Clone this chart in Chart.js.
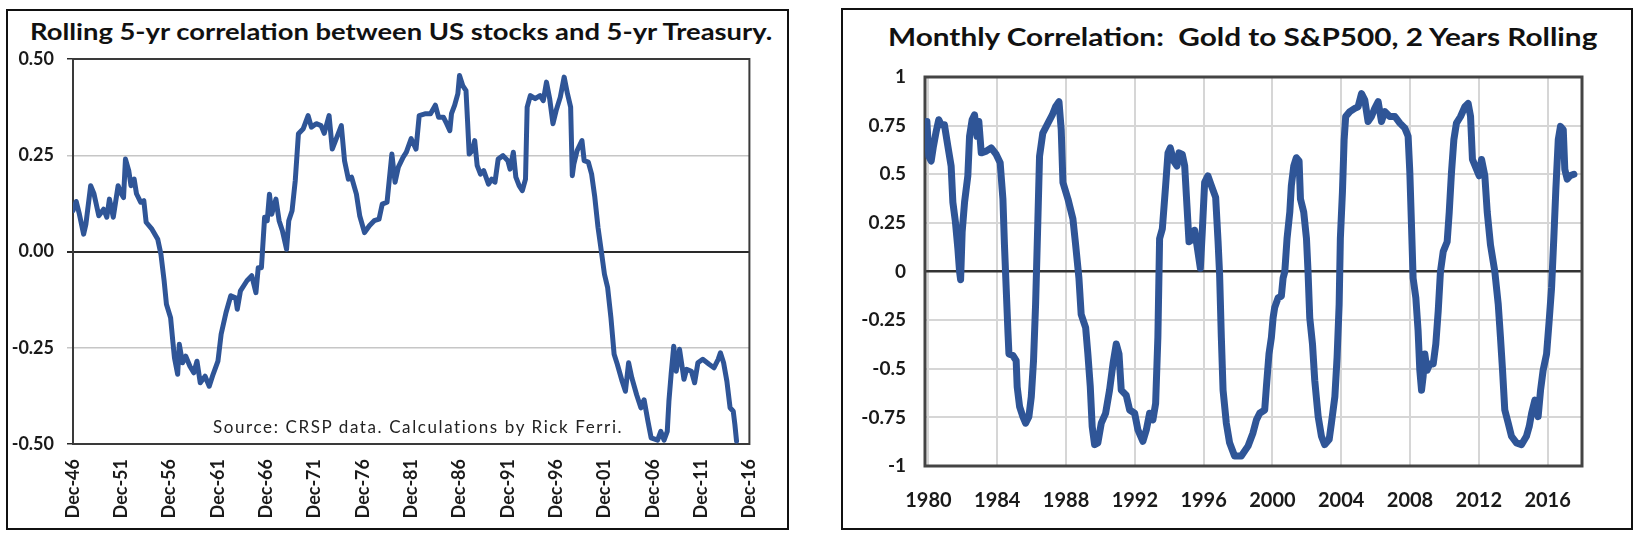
<!DOCTYPE html>
<html>
<head>
<meta charset="utf-8">
<script src="https://cdn.jsdelivr.net/npm/chart.js@4.4.1/dist/chart.umd.min.js"></script>
<style>
  body { margin: 0; width: 1640px; height: 534px; background: #fff; position: relative; overflow: hidden; font-family: Lato, "Open Sans", sans-serif; }
  .panel { position: absolute; box-sizing: border-box; border: 2px solid #111; }
  canvas { position: absolute; }
  .title { position: absolute; font-weight: bold; color: #111; white-space: pre; line-height: 1; transform-origin: 0 0; }
  .note { position: absolute; font-size: 17px; letter-spacing: 1.6px; color: #222; white-space: pre; line-height: 1; }
</style>
</head>
<body>
<div class="panel" style="left:6px; top:9px; width:783px; height:521px;"></div>
<div class="panel" style="left:841px; top:8px; width:792px; height:522px;"></div>

<div class="title" style="left:30px; top:20px; font-size:23px; transform:scaleX(1.19);">Rolling 5-yr correlation between US stocks and 5-yr Treasury.</div>
<div class="title" style="left:888px; top:24px; font-size:25px; transform:scaleX(1.19);">Monthly Correlation:  Gold to S&amp;P500, 2 Years Rolling</div>

<canvas id="stocksBonds" width="778" height="516" style="left:8px; top:11px;"></canvas>
<canvas id="goldSpx" width="786" height="516" style="left:844px; top:11px;"></canvas>

<div class="note" style="left:213px; top:418px;">Source: CRSP data. Calculations by Rick Ferri.</div>

<script>
// ---- left chart: rolling 5-yr correlation, US stocks vs 5-yr Treasury ----
const leftTickYears = [1946.92, 1951.92, 1956.92, 1961.92, 1966.92, 1971.92, 1976.92, 1981.92, 1986.92, 1991.92, 1996.92, 2001.92, 2006.92, 2011.92, 2016.92];
const leftTickLabels = ['Dec-46', 'Dec-51', 'Dec-56', 'Dec-61', 'Dec-66', 'Dec-71', 'Dec-76', 'Dec-81', 'Dec-86', 'Dec-91', 'Dec-96', 'Dec-01', 'Dec-06', 'Dec-11', 'Dec-16'];
const leftYTicks = [-0.5, -0.25, 0, 0.25, 0.5];

const leftYears = [
  1946.92, 1947.25, 1947.58, 1948.02, 1948.25, 1948.75, 1949.09, 1949.59, 1950.09, 1950.42,
  1950.69, 1951.09, 1951.59, 1951.92, 1952.15, 1952.35, 1952.69, 1952.92, 1953.25, 1953.49,
  1953.92, 1954.25, 1954.49, 1955.09, 1955.69, 1956.02, 1956.35, 1956.59, 1957.02, 1957.25,
  1957.42, 1957.75, 1957.92, 1958.25, 1958.59, 1959.02, 1959.42, 1959.75, 1960.09, 1960.59,
  1961.02, 1961.42, 1961.92, 1962.25, 1962.75, 1963.25, 1963.75, 1963.92, 1964.25, 1964.92,
  1965.42, 1965.85, 1966.09, 1966.42, 1966.75, 1967.02, 1967.25, 1967.49, 1967.92, 1968.25,
  1968.59, 1969.02, 1969.25, 1969.59, 1969.92, 1970.25, 1970.75, 1971.25, 1971.59, 1972.09,
  1972.59, 1972.92, 1973.42, 1973.75, 1974.09, 1974.69, 1975.02, 1975.42, 1975.75, 1976.25,
  1976.59, 1977.09, 1977.59, 1978.09, 1978.59, 1978.92, 1979.42, 1979.92, 1980.25, 1980.59,
  1981.09, 1981.42, 1981.92, 1982.42, 1982.75, 1983.42, 1983.92, 1984.42, 1984.75, 1985.25,
  1985.59, 1985.92, 1986.09, 1986.42, 1986.75, 1986.92, 1987.25, 1987.59, 1987.75, 1987.92,
  1988.25, 1988.49, 1988.75, 1989.09, 1989.42, 1989.92, 1990.25, 1990.59, 1990.92, 1991.42,
  1991.92, 1992.15, 1992.49, 1992.75, 1993.09, 1993.42, 1993.75, 1993.92, 1994.25, 1994.75,
  1995.25, 1995.59, 1995.92, 1996.25, 1996.59, 1996.92, 1997.35, 1997.75, 1998.09, 1998.42,
  1998.59, 1998.75, 1999.09, 1999.59, 1999.82, 2000.25, 2000.59, 2000.92, 2001.25, 2001.59,
  2001.92, 2002.25, 2002.59, 2002.92, 2003.25, 2003.75, 2004.09, 2004.42, 2004.75, 2005.25,
  2005.69, 2006.02, 2006.42, 2006.75, 2007.42, 2007.75, 2008.09, 2008.42, 2008.59, 2008.82,
  2009.09, 2009.35, 2009.69, 2009.92, 2010.15, 2010.42, 2010.92, 2011.25, 2011.59, 2012.09,
  2012.75, 2013.25, 2013.69, 2013.92, 2014.25, 2014.59, 2014.92, 2015.25, 2015.42, 2015.59
];
const leftValues = [
  0.106, 0.130, 0.097, 0.045, 0.070, 0.171, 0.150, 0.093, 0.110, 0.089,
  0.136, 0.089, 0.171, 0.150, 0.140, 0.240, 0.210, 0.171, 0.188, 0.150,
  0.128, 0.132, 0.076, 0.058, 0.032, -0.007, -0.076, -0.137, -0.172, -0.233,
  -0.276, -0.319, -0.241, -0.289, -0.272, -0.298, -0.315, -0.285, -0.341, -0.324,
  -0.350, -0.319, -0.285, -0.215, -0.159, -0.115, -0.120, -0.150, -0.102, -0.076,
  -0.063, -0.107, -0.042, -0.042, 0.089, 0.080, 0.149, 0.097, 0.136, 0.080,
  0.054, 0.006, 0.080, 0.106, 0.184, 0.306, 0.319, 0.353, 0.323, 0.332,
  0.327, 0.307, 0.353, 0.266, 0.288, 0.327, 0.236, 0.188, 0.193, 0.149,
  0.093, 0.049, 0.067, 0.080, 0.084, 0.123, 0.128, 0.253, 0.180, 0.219,
  0.245, 0.258, 0.293, 0.266, 0.353, 0.358, 0.358, 0.380, 0.349, 0.349,
  0.332, 0.314, 0.358, 0.380, 0.410, 0.457, 0.431, 0.418, 0.340, 0.253,
  0.262, 0.288, 0.223, 0.201, 0.210, 0.175, 0.188, 0.180, 0.240, 0.249,
  0.236, 0.214, 0.258, 0.193, 0.171, 0.158, 0.188, 0.375, 0.405, 0.397,
  0.405, 0.392, 0.440, 0.397, 0.332, 0.366, 0.401, 0.453, 0.410, 0.375,
  0.197, 0.227, 0.262, 0.288, 0.236, 0.232, 0.201, 0.141, 0.063, 0.002,
  -0.059, -0.094, -0.172, -0.267, -0.293, -0.337, -0.363, -0.289, -0.328, -0.372,
  -0.406, -0.385, -0.441, -0.484, -0.490, -0.467, -0.490, -0.467, -0.389, -0.319,
  -0.246, -0.311, -0.254, -0.293, -0.332, -0.306, -0.311, -0.341, -0.289, -0.280,
  -0.293, -0.302, -0.280, -0.263, -0.289, -0.337, -0.406, -0.415, -0.450, -0.493
];

// ---- right chart: monthly correlation gold vs S&P500, 2 years rolling ----
const rightTickYears = [1980, 1984, 1988, 1992, 1996, 2000, 2004, 2008, 2012, 2016];
const rightTickLabels = ['1980', '1984', '1988', '1992', '1996', '2000', '2004', '2008', '2012', '2016'];
const rightYTicks = [-1, -0.75, -0.5, -0.25, 0, 0.25, 0.5, 0.75, 1];

const rightYears = [
  1979.91, 1980.02, 1980.16, 1980.29, 1980.45, 1980.60, 1980.74, 1980.93, 1981.13, 1981.32,
  1981.42, 1981.57, 1981.71, 1981.81, 1981.87, 1981.96, 1982.10, 1982.29, 1982.39, 1982.54,
  1982.68, 1982.82, 1982.93, 1983.07, 1983.36, 1983.65, 1983.94, 1984.17, 1984.33, 1984.42,
  1984.52, 1984.62, 1984.68, 1984.91, 1985.10, 1985.16, 1985.30, 1985.49, 1985.65, 1985.84,
  1985.98, 1986.11, 1986.23, 1986.36, 1986.46, 1986.65, 1986.95, 1987.20, 1987.39, 1987.59,
  1987.72, 1987.82, 1988.11, 1988.40, 1988.56, 1988.75, 1988.88, 1989.14, 1989.27, 1989.41,
  1989.52, 1989.66, 1989.85, 1990.05, 1990.30, 1990.53, 1990.73, 1990.92, 1991.08, 1991.21,
  1991.50, 1991.70, 1991.99, 1992.18, 1992.47, 1992.67, 1992.86, 1993.05, 1993.21, 1993.34,
  1993.44, 1993.60, 1993.79, 1993.93, 1994.06, 1994.26, 1994.45, 1994.57, 1994.76, 1994.90,
  1995.03, 1995.15, 1995.38, 1995.48, 1995.61, 1995.81, 1995.92, 1996.06, 1996.25, 1996.45,
  1996.70, 1996.84, 1996.93, 1997.03, 1997.13, 1997.32, 1997.51, 1997.80, 1998.19, 1998.58,
  1998.87, 1999.07, 1999.26, 1999.55, 1999.65, 1999.80, 1999.94, 2000.04, 2000.13, 2000.33,
  2000.52, 2000.62, 2000.72, 2000.85, 2001.01, 2001.10, 2001.24, 2001.39, 2001.55, 2001.63,
  2001.82, 2001.98, 2002.07, 2002.17, 2002.33, 2002.46, 2002.66, 2002.85, 2003.04, 2003.30,
  2003.43, 2003.63, 2003.76, 2003.88, 2003.95, 2004.07, 2004.17, 2004.26, 2004.50, 2004.79,
  2004.98, 2005.18, 2005.37, 2005.56, 2005.76, 2005.95, 2006.15, 2006.34, 2006.53, 2006.82,
  2007.12, 2007.41, 2007.70, 2007.89, 2007.99, 2008.08, 2008.18, 2008.34, 2008.47, 2008.57,
  2008.67, 2008.76, 2008.86, 2008.99, 2009.15, 2009.35, 2009.50, 2009.64, 2009.77, 2009.93,
  2010.16, 2010.28, 2010.41, 2010.55, 2010.70, 2010.94, 2011.19, 2011.38, 2011.52, 2011.63,
  2011.87, 2012.02, 2012.16, 2012.35, 2012.49, 2012.68, 2012.93, 2013.13, 2013.26, 2013.38,
  2013.51, 2013.71, 2013.90, 2014.19, 2014.48, 2014.77, 2014.93, 2015.07, 2015.26, 2015.45,
  2015.59, 2015.74, 2015.94, 2016.09, 2016.23, 2016.36, 2016.48, 2016.62, 2016.75, 2016.91,
  2017.00, 2017.14, 2017.30, 2017.53
];
const rightValues = [
  0.771, 0.593, 0.568, 0.644, 0.720, 0.780, 0.754, 0.754, 0.644, 0.542,
  0.356, 0.254, 0.119, 0.000, -0.042, 0.203, 0.356, 0.492, 0.695, 0.780,
  0.805, 0.695, 0.771, 0.610, 0.619, 0.636, 0.602, 0.559, 0.373, 0.136,
  -0.085, -0.305, -0.424, -0.432, -0.458, -0.593, -0.695, -0.746, -0.780, -0.746,
  -0.644, -0.458, -0.169, 0.254, 0.593, 0.712, 0.763, 0.805, 0.847, 0.873,
  0.729, 0.458, 0.373, 0.271, 0.136, -0.034, -0.220, -0.288, -0.424, -0.593,
  -0.797, -0.890, -0.881, -0.780, -0.729, -0.610, -0.475, -0.373, -0.424, -0.610,
  -0.636, -0.712, -0.729, -0.814, -0.873, -0.814, -0.729, -0.763, -0.678, -0.339,
  0.169, 0.220, 0.441, 0.610, 0.636, 0.568, 0.542, 0.610, 0.602, 0.542,
  0.339, 0.153, 0.169, 0.212, 0.136, 0.017, 0.203, 0.458, 0.492, 0.441,
  0.381, 0.153, -0.017, -0.339, -0.610, -0.780, -0.881, -0.949, -0.949, -0.898,
  -0.830, -0.763, -0.729, -0.712, -0.593, -0.424, -0.339, -0.237, -0.186, -0.136,
  -0.127, -0.034, 0.000, 0.169, 0.305, 0.441, 0.542, 0.585, 0.568, 0.373,
  0.305, 0.169, 0.000, -0.237, -0.373, -0.559, -0.746, -0.847, -0.890, -0.864,
  -0.780, -0.644, -0.441, -0.169, 0.169, 0.407, 0.678, 0.797, 0.822, 0.839,
  0.847, 0.915, 0.881, 0.771, 0.797, 0.839, 0.873, 0.771, 0.822, 0.797,
  0.797, 0.763, 0.737, 0.695, 0.508, 0.254, -0.034, -0.136, -0.305, -0.508,
  -0.610, -0.542, -0.424, -0.508, -0.475, -0.475, -0.373, -0.203, 0.000, 0.102,
  0.153, 0.305, 0.508, 0.678, 0.763, 0.797, 0.847, 0.864, 0.797, 0.576,
  0.525, 0.492, 0.576, 0.492, 0.305, 0.136, 0.000, -0.169, -0.339, -0.508,
  -0.712, -0.780, -0.847, -0.881, -0.890, -0.847, -0.797, -0.729, -0.661, -0.746,
  -0.610, -0.508, -0.424, -0.254, -0.085, 0.169, 0.424, 0.678, 0.746, 0.729,
  0.525, 0.475, 0.492, 0.500
];

const lineBlue = '#2F5597';

// draws the box round the plot area
const plotFrame = {
  id: 'plotFrame',
  beforeDatasetsDraw(chart, args, opts) {
    const { ctx, chartArea: a } = chart;
    ctx.save();
    ctx.strokeStyle = opts.color;
    ctx.lineWidth = opts.width;
    ctx.strokeRect(a.left, a.top, a.right - a.left, a.bottom - a.top);
    ctx.restore();
  }
};

const toPoints = (xs, ys) => xs.map((x, i) => ({ x: x, y: ys[i] }));

new Chart(document.getElementById('stocksBonds'), {
  type: 'line',
  data: {
    datasets: [{
      data: toPoints(leftYears, leftValues),
      borderColor: lineBlue,
      borderWidth: 5,
      pointRadius: 0,
      tension: 0,
      borderJoinStyle: 'round',
      borderCapStyle: 'round'
    }]
  },
  plugins: [plotFrame],
  options: {
    responsive: false,
    animation: false,
    layout: { padding: { left: 0, top: 48, right: 9, bottom: 0 } },
    plugins: {
      legend: { display: false },
      tooltip: { enabled: false },
      plotFrame: { color: '#3a3a3a', width: 2 }
    },
    scales: {
      x: {
        type: 'linear',
        min: leftTickYears[0],
        max: leftTickYears[leftTickYears.length - 1],
        afterBuildTicks: s => { s.ticks = leftTickYears.map(v => ({ value: v })); },
        afterFit: s => { s.height = 83; },
        grid: { display: false, drawTicks: false },
        border: { display: false },
        ticks: {
          autoSkip: false,
          minRotation: 90,
          maxRotation: 90,
          padding: 15,
          color: '#1a1a1a',
          font: { family: 'Lato', size: 18, weight: 'bold' },
          callback: (v, i) => leftTickLabels[i]
        }
      },
      y: {
        min: -0.5,
        max: 0.5,
        afterBuildTicks: s => { s.ticks = leftYTicks.map(v => ({ value: v })); },
        afterFit: s => { s.width = 65; },
        border: { display: true, color: '#3a3a3a', width: 2 },
        grid: {
          tickLength: 6,
          color: c => (Math.abs(c.tick.value) === 0.25 ? '#c6c6c6' : '#2a2a2a'),
          lineWidth: c => (c.tick.value === 0 ? 2 : 1.5)
        },
        ticks: {
          padding: 13,
          color: '#1a1a1a',
          font: { family: 'Lato', size: 18, weight: 'bold' },
          callback: v => v.toFixed(2)
        }
      }
    }
  }
});

new Chart(document.getElementById('goldSpx'), {
  type: 'line',
  data: {
    datasets: [{
      data: toPoints(rightYears, rightValues),
      borderColor: lineBlue,
      borderWidth: 7,
      pointRadius: 0,
      tension: 0,
      borderJoinStyle: 'round',
      borderCapStyle: 'round'
    }]
  },
  plugins: [plotFrame],
  options: {
    responsive: false,
    animation: false,
    layout: { padding: { left: 0, top: 66, right: 48, bottom: 0 } },
    plugins: {
      legend: { display: false },
      tooltip: { enabled: false },
      plotFrame: { color: '#444', width: 3 }
    },
    scales: {
      x: {
        type: 'linear',
        min: 1979.8,
        max: 2018.0,
        afterBuildTicks: s => { s.ticks = rightTickYears.map(v => ({ value: v })); },
        afterFit: s => { s.height = 61; },
        grid: { color: '#d6d6d6', lineWidth: 2, drawTicks: false },
        border: { display: false },
        ticks: {
          autoSkip: false,
          maxRotation: 0,
          padding: 23,
          color: '#1a1a1a',
          font: { family: 'Lato', size: 20, weight: 'bold' },
          callback: (v, i) => rightTickLabels[i]
        }
      },
      y: {
        min: -1,
        max: 1,
        afterBuildTicks: s => { s.ticks = rightYTicks.map(v => ({ value: v })); },
        afterFit: s => { s.width = 81; },
        border: { display: false },
        grid: {
          drawTicks: false,
          color: c => (c.tick.value === 0 ? '#333' : '#d6d6d6'),
          lineWidth: c => (c.tick.value === 0 ? 2.5 : 2)
        },
        ticks: {
          padding: 19,
          color: '#1a1a1a',
          font: { family: 'Lato', size: 19, weight: 'bold' },
          callback: v => String(v)
        }
      }
    }
  }
});
</script>
</body>
</html>
